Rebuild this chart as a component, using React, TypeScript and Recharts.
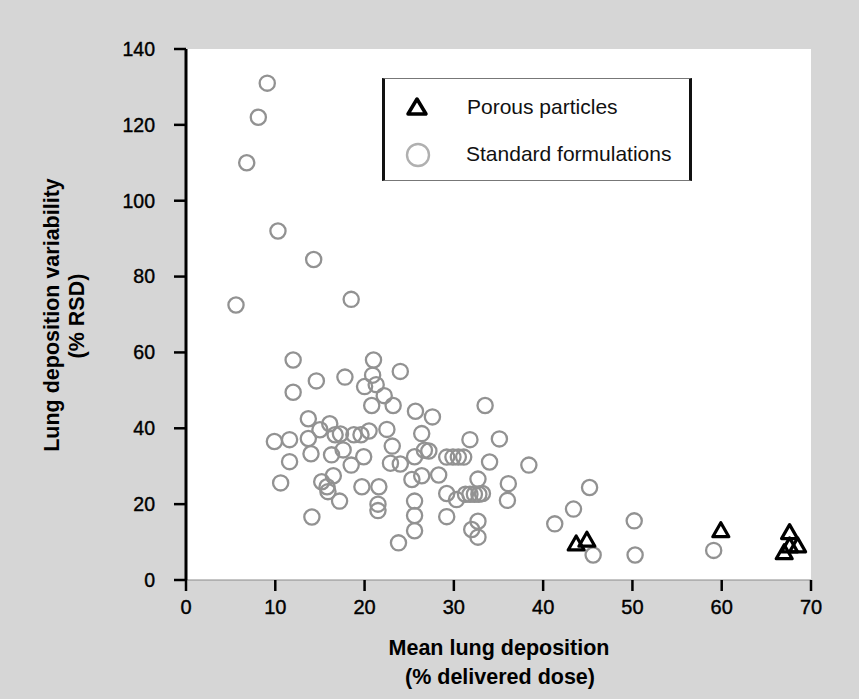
import React from 'react';
import { ScatterChart, Scatter, XAxis, YAxis, CartesianGrid, Legend } from 'recharts';

// Standard formulations: mean lung deposition (% delivered dose) and variability (% RSD)
const standardX = [
  9.1, 8.1, 6.8, 10.3, 14.3, 5.6, 18.5,
  12, 12, 14.6, 17.8, 21, 20.9, 20, 21.3, 24, 22.2, 20.8, 23.2, 25.7, 27.6, 33.5,
  9.9, 11.6, 13.7, 13.7, 14, 11.6, 10.6, 14.1,
  15, 16.1, 16.3, 16.7, 17.6, 17.3, 18.8, 19.6, 20.5, 19.9, 18.5,
  15.2, 15.8, 15.9, 16.5, 17.2, 19.7, 21.6, 21.5, 21.5,
  22.5, 23.1, 22.9, 24, 25.6, 26.4, 26.7, 27.2,
  25.3, 26.4, 25.6, 25.6, 25.6, 23.8,
  28.3, 29.2, 29.9, 30.5, 31.1, 29.2, 29.2, 30.3, 31.3, 31.8, 32.3, 32.8, 33.2,
  31.8, 32.7, 32.7, 32, 32.7, 34, 35.1, 36.1, 36, 38.4,
  41.3, 43.4, 45.2, 45.6, 50.2, 50.3, 59.1,
];
const standardY = [
  131, 122, 110, 92, 84.5, 72.5, 74,
  58, 49.5, 52.5, 53.5, 58, 54, 51, 51.5, 55, 48.6, 46, 46, 44.5, 43, 46,
  36.5, 37, 42.5, 37.3, 33.3, 31.2, 25.6, 16.6,
  39.6, 41.2, 33, 38.3, 34.3, 38.5, 38.3, 38.3, 39.3, 32.5, 30.3,
  25.9, 24.6, 23.3, 27.5, 20.8, 24.6, 24.6, 20, 18.3,
  39.7, 35.3, 30.8, 30.6, 32.5, 38.6, 34.2, 34,
  26.5, 27.5, 20.8, 17, 13, 9.8,
  27.7, 32.4, 32.4, 32.4, 32.4, 22.8, 16.7, 21.2, 22.6, 22.6, 22.6, 22.6, 22.8,
  37, 26.6, 15.5, 13.3, 11.3, 31.1, 37.2, 25.4, 21, 30.3,
  14.8, 18.7, 24.4, 6.6, 15.6, 6.6, 7.8,
];

// Porous particles
const porousX = [43.7, 44.9, 59.9, 67.6, 67, 67.6, 68.5];
const porousY = [9.5, 10.5, 13, 12.5, 7.2, 9, 9];

const xTicks = [0, 10, 20, 30, 40, 50, 60, 70];
const yTicks = [0, 20, 40, 60, 80, 100, 120, 140];
const seriesNames = ['Porous particles', 'Standard formulations'];
const xTitle = ['Mean lung deposition', '(% delivered dose)'];
const yTitle = ['Lung deposition variability', '(% RSD)'];

const standardData = standardX.map((x, i) => ({ x, y: standardY[i] }));
const porousData = porousX.map((x, i) => ({ x, y: porousY[i] }));

const FONT = '"Liberation Sans", Arial, Helvetica, sans-serif';

const CircleShape = (props: any) => {
  const { cx, cy } = props;
  if (cx == null || cy == null) return null;
  return <circle cx={cx} cy={cy} r={7.6} fill="none" stroke="#929292" strokeWidth={2.3} />;
};

const TriangleShape = (props: any) => {
  const { cx, cy } = props;
  if (cx == null || cy == null) return null;
  return (
    <path
      d={`M${cx},${cy - 8} L${cx + 8},${cy + 6} L${cx - 8},${cy + 6} Z`}
      fill="none"
      stroke="#000"
      strokeWidth={3.2}
      strokeLinejoin="round"
    />
  );
};

const LegendBox = () => (
  <div
    style={{
      width: 310,
      height: 103,
      boxSizing: 'border-box',
      background: '#fff',
      borderLeft: '3px solid #111',
      borderRight: '3px solid #111',
      borderTop: '1px solid #777',
      borderBottom: '1px solid #777',
      position: 'relative',
      fontFamily: FONT,
      fontSize: 21,
      color: '#111',
    }}
  >
    <svg width={40} height={103} style={{ position: 'absolute', left: 12, top: 0 }}>
      <path d="M20,20 L29,35 L11,35 Z" fill="none" stroke="#000" strokeWidth={3.5} strokeLinejoin="round" />
      <circle cx={21} cy={76} r={11} fill="none" stroke="#b0b0b0" strokeWidth={2.4} />
    </svg>
    <div style={{ position: 'absolute', left: 82, top: 16, whiteSpace: 'nowrap' }}>{seriesNames[0]}</div>
    <div style={{ position: 'absolute', left: 81, top: 63, whiteSpace: 'nowrap' }}>{seriesNames[1]}</div>
  </div>
);

export default function App() {
  return (
    <div
      style={{
        position: 'absolute',
        left: 0,
        top: 0,
        width: 859,
        height: 699,
        background: '#d6d6d6',
        fontFamily: FONT,
        overflow: 'hidden',
      }}
    >
      <ScatterChart width={859} height={699} margin={{ top: 49, right: 48, bottom: 89, left: 126 }}>
        <CartesianGrid horizontal={false} vertical={false} fill="#ffffff" />
        <XAxis
          type="number"
          dataKey="x"
          domain={[0, 70]}
          ticks={xTicks}
          interval={0}
          height={30}
          tickSize={11}
          tickMargin={9}
          axisLine={{ stroke: '#8a8a8a', strokeWidth: 1 }}
          tickLine={{ stroke: '#000', strokeWidth: 2.5 }}
          tick={{ fontSize: 20, fill: '#000', stroke: '#000', strokeWidth: 0.4, fontFamily: FONT }}
          allowDataOverflow
        />
        <YAxis
          type="number"
          dataKey="y"
          domain={[0, 140]}
          ticks={yTicks}
          interval={0}
          width={60}
          tickSize={12}
          tickMargin={19}
          axisLine={{ stroke: '#000', strokeWidth: 3 }}
          tickLine={{ stroke: '#000', strokeWidth: 2.5 }}
          tick={{ fontSize: 19.5, fill: '#000', stroke: '#000', strokeWidth: 0.4, fontFamily: FONT }}
          allowDataOverflow
        />
        <Legend
          layout="vertical"
          verticalAlign="middle"
          align="center"
          content={() => <LegendBox />}
          wrapperStyle={{ position: 'absolute', left: 382, top: 78, width: 310, height: 103 }}
        />
        <Scatter
          name={seriesNames[1]}
          data={standardData}
          shape={CircleShape}
          isAnimationActive={false}
        />
        <Scatter
          name={seriesNames[0]}
          data={porousData}
          shape={TriangleShape}
          isAnimationActive={false}
        />
      </ScatterChart>
      <svg
        width={859}
        height={699}
        style={{ position: 'absolute', left: 0, top: 0, pointerEvents: 'none' }}
      >
        <g fontFamily={FONT} fontWeight="bold" fontSize={21.5} fill="#000" textAnchor="middle">
          <text x={499} y={648} dominantBaseline="central">{xTitle[0]}</text>
          <text x={500} y={677} dominantBaseline="central">{xTitle[1]}</text>
          <text x={52} y={315} dominantBaseline="central" transform="rotate(-90 52 315)">{yTitle[0]}</text>
          <text x={77} y={316} dominantBaseline="central" transform="rotate(-90 77 316)">{yTitle[1]}</text>
        </g>
      </svg>
    </div>
  );
}
